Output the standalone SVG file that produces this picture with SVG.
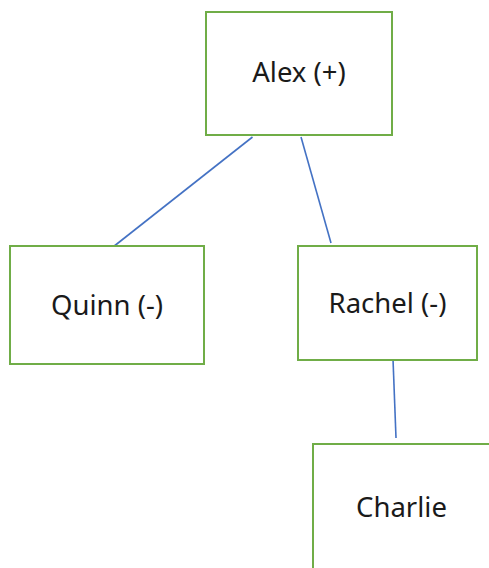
<svg xmlns="http://www.w3.org/2000/svg" width="489" height="568" viewBox="0 0 489 568">
<style>
.box{fill:#fff;stroke:#70AD47;stroke-width:2}
.lbl{font-family:"Noto Sans","Open Sans",sans-serif;font-size:27.5px;fill:#1a1a1a;text-anchor:middle}
.conn{stroke:#4472C4;stroke-width:1.6;fill:none}
</style>
<rect width="489" height="568" fill="#fff"/>
<g id="connectors">
<line class="conn" x1="252.5" y1="137" x2="113" y2="247"/>
<line class="conn" x1="301" y1="137" x2="331" y2="243"/>
<line class="conn" x1="393" y1="359" x2="396" y2="438"/>
</g>
<g id="alex">
<rect class="box" x="206" y="12" width="186" height="123"/>
<text class="lbl" x="299" y="82">Alex (+)</text>
</g>
<g id="quinn">
<rect class="box" x="10" y="246" width="194" height="118"/>
<text class="lbl" x="107" y="315">Quinn (-)</text>
</g>
<g id="rachel">
<rect class="box" x="298" y="246" width="179" height="114"/>
<text class="lbl" x="387.5" y="313">Rachel (-)</text>
</g>
<g id="charlie">
<rect class="box" x="313" y="444" width="178" height="130"/>
<text class="lbl" x="401.5" y="517">Charlie</text>
</g>
</svg>
